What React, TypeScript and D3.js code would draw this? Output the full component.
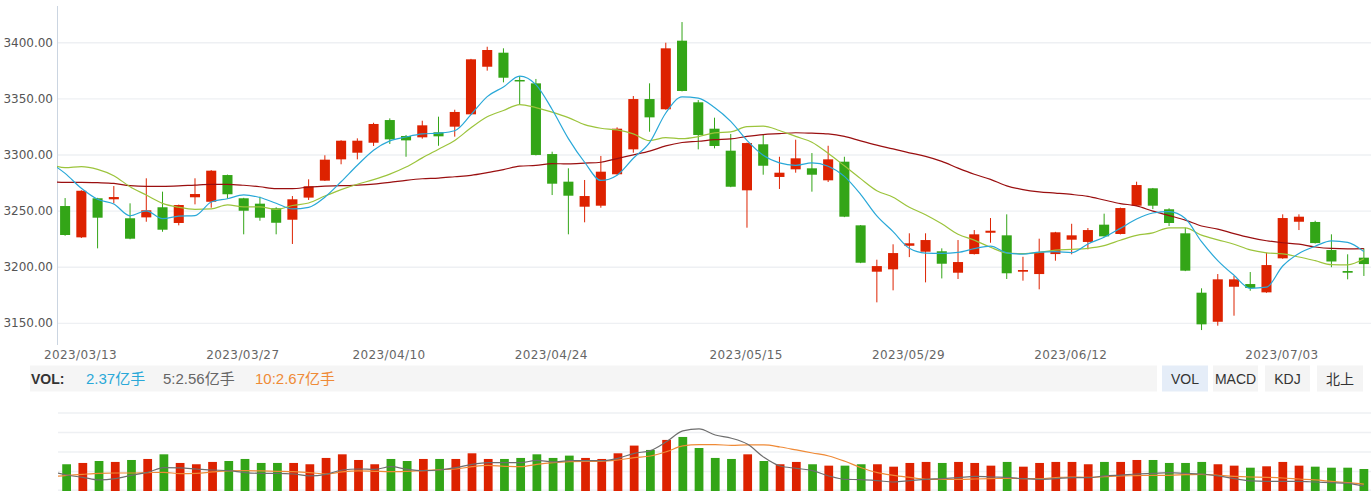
import React from 'react';
import * as d3 from 'd3';

const dates = [
  '2023/03/13','2023/03/14','2023/03/15','2023/03/16','2023/03/17','2023/03/20','2023/03/21','2023/03/22','2023/03/23','2023/03/24',
  '2023/03/27','2023/03/28','2023/03/29','2023/03/30','2023/03/31','2023/04/03','2023/04/04','2023/04/06','2023/04/07','2023/04/10',
  '2023/04/11','2023/04/12','2023/04/13','2023/04/14','2023/04/17','2023/04/18','2023/04/19','2023/04/20','2023/04/21','2023/04/24',
  '2023/04/25','2023/04/26','2023/04/27','2023/04/28','2023/05/04','2023/05/05','2023/05/08','2023/05/09','2023/05/10','2023/05/11',
  '2023/05/12','2023/05/15','2023/05/16','2023/05/17','2023/05/18','2023/05/19','2023/05/22','2023/05/23','2023/05/24','2023/05/25',
  '2023/05/26','2023/05/29','2023/05/30','2023/05/31','2023/06/01','2023/06/02','2023/06/05','2023/06/06','2023/06/07','2023/06/08',
  '2023/06/09','2023/06/12','2023/06/13','2023/06/14','2023/06/15','2023/06/16','2023/06/19','2023/06/20','2023/06/21','2023/06/26',
  '2023/06/27','2023/06/28','2023/06/29','2023/06/30','2023/07/03','2023/07/04','2023/07/05','2023/07/06','2023/07/07','2023/07/10',
  '2023/07/11'
];

const opens = [
  3254.5,3226.6,3261.4,3260.5,3243.6,3244.4,3253.4,3239.4,3262.3,3258.3,
  3282.1,3261.4,3256.6,3252.5,3242.3,3262.0,3277.1,3296.1,3302.0,3310.9,
  3331.1,3316.9,3315.7,3320.2,3325.2,3336.2,3378.6,3391.1,3366.8,3363.8,
  3300.8,3276.2,3253.9,3254.8,3282.8,3305.0,3349.8,3340.7,3401.8,3346.9,
  3323.4,3303.8,3268.5,3309.5,3280.4,3287.2,3288.1,3277.4,3294.0,3237.3,
  3196.0,3198.1,3219.1,3213.8,3214.2,3195.1,3211.7,3230.7,3228.4,3196.0,
  3193.9,3211.7,3224.5,3222.5,3237.9,3229.6,3254.8,3270.3,3251.6,3230.2,
  3177.3,3151.4,3182.6,3185.0,3177.6,3207.9,3240.5,3240.3,3215.3,3196.6,
  3208.5
];
const highs = [
  3261.6,3268.5,3261.8,3272.3,3256.9,3279.2,3267.3,3255.8,3279.2,3286.5,
  3282.5,3261.8,3262.8,3253.4,3263.4,3278.3,3299.7,3313.1,3314.8,3328.7,
  3332.6,3317.8,3330.5,3334.1,3340.3,3385.6,3396.4,3395.0,3370.3,3367.7,
  3302.9,3288.1,3277.7,3299.1,3324.6,3352.5,3363.8,3400.0,3418.4,3348.9,
  3333.2,3318.7,3311.0,3317.8,3298.4,3313.6,3301.7,3308.2,3298.4,3237.6,
  3206.7,3220.4,3230.2,3230.2,3216.8,3224.2,3233.1,3243.8,3247.1,3209.3,
  3225.4,3231.5,3238.7,3234.9,3247.7,3253.1,3276.2,3270.6,3252.5,3235.2,
  3181.2,3193.9,3192.2,3195.7,3212.9,3247.1,3247.1,3241.4,3229.3,3211.5,
  3216.8
];
const lows = [
  3228.0,3226.0,3216.8,3256.9,3224.9,3240.5,3231.6,3237.3,3256.0,3253.0,
  3261.0,3229.3,3241.4,3229.3,3220.7,3259.9,3276.8,3291.7,3296.1,3308.0,
  3309.8,3298.4,3314.5,3308.2,3316.3,3335.8,3375.1,3364.7,3345.1,3299.6,
  3264.3,3229.3,3240.0,3253.0,3282.4,3302.0,3320.7,3340.3,3356.6,3305.0,
  3305.9,3271.3,3235.2,3282.4,3269.7,3284.2,3267.3,3275.9,3244.6,3203.6,
  3168.7,3179.4,3209.0,3186.5,3190.0,3189.5,3211.3,3221.8,3189.5,3188.0,
  3180.3,3205.8,3211.5,3215.9,3227.1,3229.2,3254.5,3251.8,3236.7,3196.5,
  3144.0,3147.9,3156.8,3179.0,3177.2,3207.5,3233.1,3221.1,3200.0,3189.2,
  3192.2
];
const closes = [
  3228.7,3268.1,3244.1,3262.5,3225.4,3250.7,3233.4,3255.4,3265.2,3286.0,
  3265.0,3250.3,3244.1,3239.6,3260.5,3272.1,3295.8,3312.7,3312.7,3327.6,
  3313.9,3313.0,3326.4,3316.6,3338.3,3385.2,3393.5,3368.8,3365.9,3300.0,
  3274.4,3263.7,3263.4,3285.1,3323.4,3349.8,3333.5,3395.0,3357.0,3317.8,
  3308.0,3271.7,3310.6,3290.4,3284.2,3297.0,3282.4,3296.1,3245.0,3204.0,
  3201.0,3212.6,3221.3,3224.2,3203.1,3204.6,3229.3,3232.5,3194.6,3197.5,
  3213.3,3231.1,3228.4,3233.1,3227.5,3252.7,3273.2,3254.8,3239.4,3196.9,
  3149.1,3189.2,3189.2,3181.5,3201.9,3243.8,3245.0,3221.5,3205.1,3195.1,
  3202.8
];

const ma5 = [
  3283.6,3270.3,3260.5,3256.3,3245.8,3250.2,3243.2,3245.5,3246.0,3258.1,
  3261.0,3264.4,3262.1,3257.0,3251.9,3253.3,3262.4,3276.1,3290.8,3304.2,
  3312.5,3316.0,3318.7,3319.5,3321.6,3335.9,3352.0,3360.5,3370.3,3362.7,
  3340.5,3314.6,3293.5,3277.3,3282.0,3297.1,3311.0,3337.4,3351.7,3350.6,
  3342.3,3329.9,3313.0,3299.7,3293.0,3290.8,3292.9,3290.0,3280.9,3264.9,
  3245.7,3231.7,3216.8,3212.6,3212.4,3213.2,3216.5,3218.7,3212.8,3211.7,
  3213.4,3213.8,3213.0,3220.7,3226.7,3234.6,3243.0,3248.3,3249.5,3243.4,
  3222.7,3205.9,3192.8,3181.2,3182.2,3201.1,3212.3,3218.7,3223.5,3222.1,
  3213.9
];
const ma10 = [
  3288.7,3289.6,3287.2,3281.5,3271.7,3264.3,3256.9,3253.4,3251.6,3252.0,
  3255.6,3253.8,3253.8,3251.5,3255.0,3257.2,3263.4,3269.1,3273.9,3278.0,
  3282.9,3289.2,3297.4,3305.1,3312.9,3324.2,3334.0,3339.6,3344.9,3342.2,
  3338.2,3333.3,3327.0,3323.8,3322.3,3318.8,3312.8,3315.4,3314.5,3316.3,
  3319.7,3320.5,3325.2,3325.7,3321.8,3316.5,3311.4,3301.5,3290.3,3278.9,
  3268.2,3262.3,3253.4,3246.8,3238.7,3229.4,3224.1,3217.8,3212.7,3212.1,
  3213.3,3215.2,3215.9,3216.8,3219.2,3224.0,3228.4,3230.6,3235.1,3235.0,
  3228.6,3224.4,3220.5,3215.4,3212.8,3211.9,3209.1,3205.8,3202.3,3202.1,
  3207.5
];
const ma30 = [
  3275.6,3275.6,3275.3,3274.7,3272.6,3272.0,3272.0,3272.4,3273.2,3273.8,
  3273.8,3273.0,3271.7,3270.0,3270.0,3271.4,3272.3,3272.6,3273.2,3274.1,
  3275.6,3277.4,3278.8,3279.4,3280.6,3281.8,3284.2,3287.0,3290.0,3290.7,
  3292.2,3292.1,3292.7,3293.5,3296.8,3300.1,3303.4,3308.1,3311.1,3312.2,
  3313.6,3314.3,3316.5,3318.2,3319.0,3319.8,3319.4,3318.8,3316.6,3312.5,
  3308.7,3305.4,3301.9,3298.8,3294.3,3288.3,3282.8,3278.2,3272.5,3269.1,
  3267.1,3266.0,3264.8,3263.1,3259.9,3256.7,3254.6,3250.0,3246.0,3242.0,
  3236.7,3234.0,3229.9,3226.3,3223.6,3221.8,3220.5,3218.0,3216.7,3216.4,
  3216.5
];

// volume in 亿手
const volumes = [
  2.88,3.02,3.23,3.13,3.34,3.45,3.95,3.02,2.88,3.13,
  3.23,3.45,3.02,3.02,3.02,2.88,3.56,3.95,3.34,2.88,
  3.45,3.23,3.45,3.45,3.45,4.06,3.45,3.45,3.56,3.95,
  3.56,3.81,3.56,3.45,4.06,4.89,4.42,5.50,5.82,4.63,
  3.56,3.45,3.95,3.23,2.88,3.13,2.88,2.73,2.73,2.88,
  2.88,2.62,3.02,3.13,3.02,3.13,3.02,2.73,3.13,2.62,
  3.02,3.13,3.13,2.88,3.13,3.13,3.34,3.34,3.02,3.02,
  3.13,2.88,2.73,2.51,2.66,3.13,2.73,2.62,2.51,2.51,
  2.37
];
const volMa5 = [
  1.72,1.47,1.19,1.33,1.69,2.01,2.51,2.48,2.37,2.26,
  2.19,1.98,1.90,1.90,1.83,1.62,1.80,2.26,2.37,2.33,
  2.62,2.33,2.19,2.26,2.51,2.87,3.05,3.05,3.05,3.30,
  3.13,3.27,3.27,3.27,3.52,4.06,4.35,5.32,6.47,6.68,
  6.03,5.68,5.03,3.63,2.69,2.44,2.19,1.62,1.26,1.22,
  1.11,0.97,1.11,1.26,1.33,1.44,1.58,1.51,1.47,1.33,
  1.26,1.33,1.44,1.44,1.62,1.72,1.83,1.90,1.98,1.90,
  1.83,1.62,1.33,1.08,1.04,1.04,1.04,0.97,0.90,0.83,
  0.54
];
const volMa10 = [
  1.69,1.80,1.90,1.94,1.94,1.98,2.01,1.87,1.90,2.05,
  2.16,2.19,2.16,2.12,2.08,1.98,1.83,2.05,2.16,2.12,
  2.08,2.12,2.19,2.30,2.37,2.62,2.77,2.66,2.62,2.87,
  3.05,3.16,3.20,3.20,3.34,3.59,3.77,4.24,4.85,4.99,
  4.99,4.92,4.96,4.96,4.74,4.42,4.09,3.77,3.20,2.51,
  1.98,1.69,1.47,1.26,1.26,1.26,1.29,1.33,1.37,1.33,
  1.33,1.44,1.51,1.47,1.54,1.62,1.65,1.69,1.69,1.76,
  1.80,1.69,1.58,1.51,1.47,1.40,1.29,1.19,1.04,0.90,
  0.75
];

// values of the day before the first visible candle (lines enter from the left edge)
const leadMain = [3293.8, 3292.0, 3276.2]; // MA5, MA10, MA30
const leadVol = [2.12, 1.49]; // vol MA5, vol MA10

const priceTicks = [3150, 3200, 3250, 3300, 3350, 3400];
const dateTicks = ['2023/03/13','2023/03/27','2023/04/10','2023/04/24','2023/05/15','2023/05/29','2023/06/12','2023/07/03'];
const volTicks = [0, 2.1, 4.2, 6.3, 8.4];
const volHeader = ['2.37亿手', '5:2.56亿手', '10:2.67亿手'];
const tabs = ['VOL', 'MACD', 'KDJ', '北上'];

const UP = '#dd2200';
const DOWN = '#33a517';
const C_MA5 = '#29a8d8';
const C_MA10 = '#9cc43c';
const C_MA30 = '#9a0f10';
const C_VMA5 = '#6e6e6e';
const C_VMA10 = '#ef8a36';

export default function App() {
  const W = 1371;
  const H = 491;
  const x = d3.scaleBand<string>().domain(dates).range([57, 1372]);
  const xv = d3.scaleBand<string>().domain(dates).range([58.5, 1372]);
  const y = d3.scaleLinear().domain([3130.7, 3432.7]).range([345, 6]);
  const yv = d3.scaleLinear().domain([0, 8.4]).range([491, 413]);
  const cx = (i: number) => (x(dates[i]) as number) + x.bandwidth() / 2;
  const cxv = (i: number) => (xv(dates[i]) as number) + xv.bandwidth() / 2;

  const mainLine = (vals: number[], lead: number) =>
    d3.line<number>()
      .x((_, i) => (i === 0 ? cx(0) - x.step() : cx(i - 1)))
      .y((v) => y(v))
      .curve(d3.curveMonotoneX)([lead, ...vals]) || '';
  const volLine = (vals: number[], lead: number) =>
    d3.line<number>()
      .x((_, i) => (i === 0 ? cxv(0) - xv.step() : cxv(i - 1)))
      .y((v) => yv(v))
      .curve(d3.curveMonotoneX)([lead, ...vals]) || '';

  const bodyW = x.bandwidth() * 0.62;
  const volW = xv.bandwidth() * 0.54;
  const axisFont = '"DejaVu Sans", sans-serif';
  const uiFont = '"Liberation Sans", Arial, "Noto Sans CJK SC", sans-serif';

  const tabBoxes = [
    { x: 1162, w: 46 },
    { x: 1213, w: 45 },
    { x: 1265, w: 45 },
    { x: 1317, w: 46 },
  ];
  const headerX = [86, 163, 255];
  const headerColors = [C_MA5, '#666666', C_VMA10];

  return (
    <svg width={W} height={H} style={{ position: 'absolute', left: 0, top: 0, display: 'block', background: '#fff' }}>
      <defs>
        <clipPath id="mainClip"><rect x={57} y={0} width={W - 57} height={350} /></clipPath>
        <clipPath id="volClip"><rect x={58} y={400} width={W - 58} height={91} /></clipPath>
      </defs>

      {/* main grid */}
      {priceTicks.map((t) => (
        <line key={'g' + t} x1={57} x2={W} y1={y(t)} y2={y(t)} stroke="#eef0f3" strokeWidth={1.4} />
      ))}
      <line x1={57.5} x2={57.5} y1={6} y2={345} stroke="#cbd5e1" strokeWidth={1} />
      {priceTicks.map((t) => (
        <text key={'yl' + t} x={53} y={y(t)} textAnchor="end" dominantBaseline="central"
          fontFamily={axisFont} fontSize={12} fill="#555">{t.toFixed(2)}</text>
      ))}
      {dateTicks.map((d) => (
        <text key={'xl' + d} x={cx(dates.indexOf(d)) + 15.4} y={354.5} textAnchor="middle" dominantBaseline="central"
          fontFamily={axisFont} fontSize={12} letterSpacing={0.4} fill="#666">{d}</text>
      ))}

      {/* candles */}
      <g>
        {dates.map((d, i) => {
          const up = closes[i] >= opens[i];
          const col = up ? UP : DOWN;
          const top = y(Math.max(opens[i], closes[i]));
          const bot = y(Math.min(opens[i], closes[i]));
          const c = cx(i);
          return (
            <g key={'c' + d}>
              <line x1={c} x2={c} y1={y(highs[i])} y2={y(lows[i])} stroke={col} strokeWidth={1} />
              <rect x={c - bodyW / 2} y={top} width={bodyW} height={Math.max(1.5, bot - top)} fill={col} />
            </g>
          );
        })}
      </g>

      {/* MA lines */}
      <g clipPath="url(#mainClip)" fill="none" strokeWidth={1.2}>
        <path d={mainLine(ma30, leadMain[2])} stroke={C_MA30} />
        <path d={mainLine(ma10, leadMain[1])} stroke={C_MA10} />
        <path d={mainLine(ma5, leadMain[0])} stroke={C_MA5} />
      </g>

      {/* VOL header */}
      <rect x={30} y={365.5} width={1127} height={26} fill="#f5f5f5" />
      <text x={31} y={378.5} dominantBaseline="central" fontFamily={uiFont} fontSize={14} fontWeight="bold" fill="#333">VOL:</text>
      {volHeader.map((t, i) => (
        <text key={'vh' + i} x={headerX[i]} y={378.5} dominantBaseline="central" fontFamily={uiFont} fontSize={15} fill={headerColors[i]}>{t}</text>
      ))}
      {tabs.map((t, i) => (
        <g key={'tab' + t}>
          <rect x={tabBoxes[i].x} y={365.5} width={tabBoxes[i].w} height={26} fill={i === 0 ? '#e5edf8' : '#f4f4f4'} />
          <text x={tabBoxes[i].x + tabBoxes[i].w / 2} y={378.5} textAnchor="middle" dominantBaseline="central"
            fontFamily={uiFont} fontSize={14} fill="#333">{t}</text>
        </g>
      ))}

      {/* volume grid */}
      {volTicks.map((t) => (
        <line key={'vg' + t} x1={58} x2={W} y1={yv(t) - (t === 0 ? 0.7 : 0)} y2={yv(t) - (t === 0 ? 0.7 : 0)} stroke="#eef0f3" strokeWidth={1.4} />
      ))}
      {dates.map((d, i) => {
        const up = closes[i] >= opens[i];
        const c = cxv(i);
        return (
          <rect key={'v' + d} x={c - volW / 2} y={yv(volumes[i])} width={volW} height={yv(0) - yv(volumes[i])} fill={up ? UP : DOWN} />
        );
      })}
      <g clipPath="url(#volClip)" fill="none" strokeWidth={1.2}>
        <path d={volLine(volMa10, leadVol[1])} stroke={C_VMA10} />
        <path d={volLine(volMa5, leadVol[0])} stroke={C_VMA5} />
      </g>
    </svg>
  );
}
